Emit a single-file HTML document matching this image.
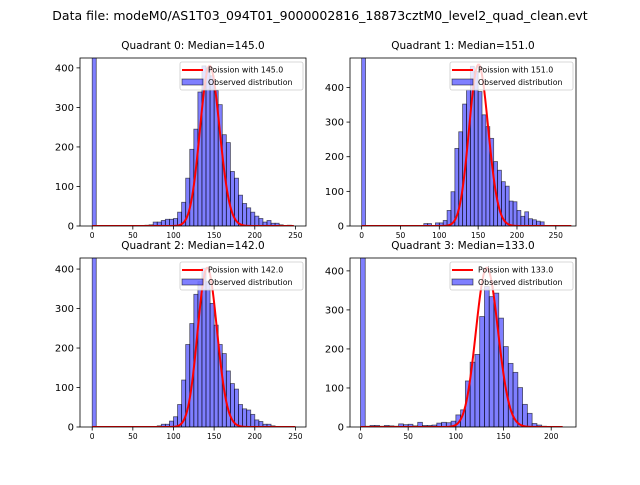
<!DOCTYPE html>
<html><head><meta charset="utf-8"><style>
body{margin:0;background:#fff;font-family:"Liberation Sans","DejaVu Sans",sans-serif}
svg text{font-family:"DejaVu Sans","Liberation Sans",sans-serif}
</style></head><body>
<svg id="fig" width="640" height="480" viewBox="0 0 640 480" xmlns="http://www.w3.org/2000/svg">
<rect width="640" height="480" fill="#fff"/>
<text x="320" y="20" font-size="12.5" text-anchor="middle">Data file: modeM0/AS1T03_094T01_9000002816_18873cztM0_level2_quad_clean.evt</text>
</svg>
<script>
const titles=["Quadrant 0: Median=145.0","Quadrant 1: Median=151.0","Quadrant 2: Median=142.0","Quadrant 3: Median=133.0"];
const medians=[145,151,142,133];
const peaks=[405,466,403,408];
const binStarts0=[0,55,60,65,70,75,80,85,90,95,100,105,110,115,120,125,130,135,140,145,150,155,160,165,170,175,180,185,190,195,200,205,210,215,220,225,230,240];
const counts0=[1000,1,1,2,3,10,10,14,17,17,19,35,60,121,194,245,339,405,400,380,343,307,231,211,138,121,78,57,46,35,25,19,10,14,7,7,3,2];
const binStarts1=[0,80,85,95,100,105,110,115,120,125,130,135,140,145,150,155,160,165,170,175,180,185,190,195,200,205,210,215,220,225,230];
const counts1=[1000,7,7,9,9,16,45,99,224,272,352,393,461,446,388,321,287,253,186,161,128,115,72,70,45,28,41,21,18,14,12];
const binStarts2=[0,80,85,90,95,100,105,110,115,120,125,130,135,140,145,150,155,160,165,170,175,180,185,190,195,200,205,210,215,220];
const counts2=[1000,3,7,7,15,26,57,119,209,262,336,368,402,368,313,258,209,186,142,110,96,57,46,43,32,18,14,7,7,3];
const binStarts3=[0,5,10,15,20,25,30,35,40,45,50,55,60,65,70,75,80,85,90,95,100,105,110,115,120,125,130,135,140,145,150,155,160,165,170,175,180,185,190];
const counts3=[1000,2,4,4,2,4,3,2,8,6,7,3,12,4,4,5,10,12,11,15,31,44,118,166,186,283,360,334,343,279,206,163,140,101,58,35,9,5,2];
const binStarts=[binStarts0,binStarts1,binStarts2,binStarts3];
const counts=[counts0,counts1,counts2,counts3];
const curveMax=[248,270,250,212];
const xTicks=[[0,50,100,150,200,250],[0,50,100,150,200,250],[0,50,100,150,200,250],[0,50,100,150,200]];
const yTicks=[0,100,200,300,400];
const xLims=[[-15,263],[-15,276],[-15,263],[-11,226]];
const yLims=[425,485,428,433];
const binWidth=5;

const NS="http://www.w3.org/2000/svg";
const svg=document.getElementById('fig');
const boxes=[[80,58,226,168],[350,58,226,168],[80,258,226,169],[350,258,226,169]];
function el(t,a,p){const e=document.createElementNS(NS,t);for(const k in a)e.setAttribute(k,a[k]);(p||svg).appendChild(e);return e;}
function lgam(n){if(n<2)return 0; return n*Math.log(n)-n+0.5*Math.log(2*Math.PI*n)+1/(12*n);}
for(let q=0;q<4;q++){
  const [bx,by,bw,bh]=boxes[q];
  const xs=v=>bx+(v-xLims[q][0])/(xLims[q][1]-xLims[q][0])*bw;
  const ys=v=>by+bh-v/yLims[q]*bh;
  const g=el('g',{});
  
  
  const cid='clip'+q;
  const cp=el('clipPath',{id:cid},g);el('rect',{x:bx,y:by,width:bw,height:bh},cp);
  const pg=el('g',{'clip-path':'url(#'+cid+')'},g);
  binStarts[q].forEach((b,i)=>{
    const r=el('rect',{x:xs(b),y:ys(counts[q][i]),width:xs(b+binWidth)-xs(b),height:ys(0)-ys(counts[q][i]),fill:'rgba(0,0,255,0.5)',stroke:'rgba(0,0,0,0.6)','stroke-width':0.8},pg);
    
    
  });
  const mu=medians[q];const pk=Math.exp(-mu+mu*Math.log(mu)-lgam(mu));
  let d='';
  for(let k=0;k<=curveMax[q];k++){
    const p=Math.exp(-mu+(k>0?k*Math.log(mu):0)-lgam(k));
    d+=(k?'L':'M')+xs(k).toFixed(2)+','+ys(p/pk*peaks[q]).toFixed(2);
  }
  const c=el('path',{d:d,fill:'none',stroke:'red','stroke-width':2},pg);
  
  
  el('rect',{x:bx,y:by,width:bw,height:bh,fill:'none',stroke:'#000','stroke-width':0.8},g);
  xTicks[q].forEach(t=>{
    el('line',{x1:xs(t),x2:xs(t),y1:by+bh,y2:by+bh+3.5,stroke:'#000','stroke-width':0.8},g);
    const tx=el('text',{x:xs(t),y:by+bh+12,'font-size':7.5,'text-anchor':'middle'},g);tx.textContent=t;
    
    
  });
  yTicks.forEach(t=>{
    el('line',{x1:bx-3.5,x2:bx,y1:ys(t),y2:ys(t),stroke:'#000','stroke-width':0.8},g);
    const tx=el('text',{x:bx-6,y:ys(t)+3.5,'font-size':10,'text-anchor':'end'},g);tx.textContent=t;
    
    
  });
  const ti=el('text',{x:bx+bw/2,y:by-9,'font-size':10.5,'text-anchor':'middle'},g);ti.textContent=titles[q];
  
  
  const lg=el('g',{},g);
  
  
  const lx=bx+bw-126,ly=by+4;
  el('rect',{x:lx,y:ly,width:123,height:28,rx:2,fill:'rgba(255,255,255,0.8)',stroke:'#ccc','stroke-width':0.8},lg);
  el('line',{x1:lx+2,x2:lx+23,y1:ly+8,y2:ly+8,stroke:'red','stroke-width':2},lg);
  const t1=el('text',{x:lx+28,y:ly+10.5,'font-size':7.8},lg);t1.textContent='Poission with '+medians[q].toFixed(1);
  el('rect',{x:lx+2,y:ly+17,width:21,height:6,fill:'rgba(0,0,255,0.5)',stroke:'rgba(0,0,0,0.6)','stroke-width':0.8},lg);
  const t2=el('text',{x:lx+28,y:ly+23,'font-size':7.8},lg);t2.textContent='Observed distribution';
}
</script>
</body></html>
